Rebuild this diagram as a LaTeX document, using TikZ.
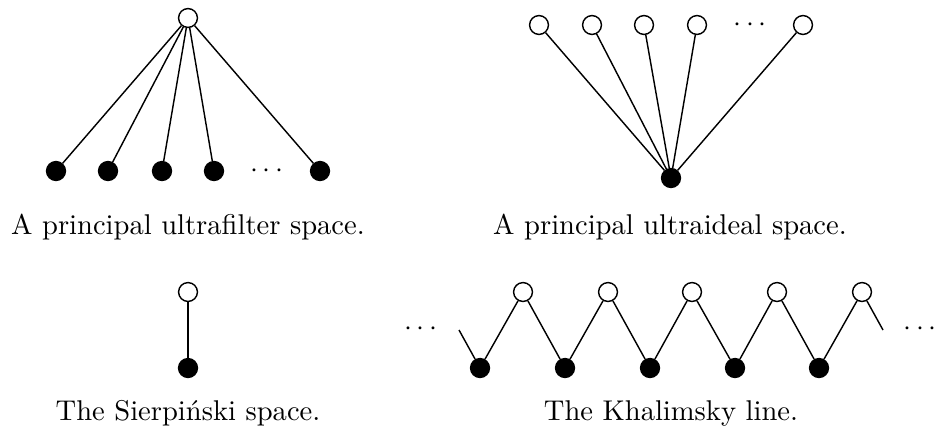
\documentclass[tikz,border=0pt]{standalone}
\begin{document}
\begin{tikzpicture}[x=0.35pt,y=-0.35pt,
  open/.style={circle,draw,fill=white,line width=0.5pt,minimum size=6.6pt,inner sep=0pt},
  closed/.style={circle,draw,fill=black,line width=0.5pt,minimum size=6.6pt,inner sep=0pt},
  edge/.style={line width=0.5pt},
  caption/.style={anchor=base,inner sep=0pt}]
\useasboundingbox (0,0) rectangle (936,430);
% principal ultrafilter space
\node[open] (uf) at (188,18) {};
\node[closed] (uf1) at (56,171) {};
\node[closed] (uf2) at (108,171) {};
\node[closed] (uf3) at (162,171) {};
\node[closed] (uf4) at (214,171) {};
\node (ufd) at (267,171) {$\cdots$};
\node[closed] (uf5) at (320,171) {};
\foreach \i in {1,...,5} \draw[edge] (uf) -- (uf\i);
\node[caption] (ufc) at (188,234) {A principal ultrafilter space.};
% principal ultraideal space
\node[closed] (ui) at (671,178) {};
\node[open] (ui1) at (539,25) {};
\node[open] (ui2) at (592,25) {};
\node[open] (ui3) at (644,25) {};
\node[open] (ui4) at (697,25) {};
\node (uid) at (750,25) {$\cdots$};
\node[open] (ui5) at (803,25) {};
\foreach \i in {1,...,5} \draw[edge] (ui) -- (ui\i);
\node[caption] (uic) at (670,234) {A principal ultraideal space.};
% Sierpinski space
\node[open] (s1) at (188,292) {};
\node[closed] (s0) at (188,368) {};
\draw[edge] (s1) -- (s0);
\node[caption] (sc) at (188,420) {The Sierpi\'nski space.};
% Khalimsky line
\node[closed] (k1) at (480,368) {};
\node[closed] (k2) at (565,368) {};
\node[closed] (k3) at (650,368) {};
\node[closed] (k4) at (735,368) {};
\node[closed] (k5) at (819,368) {};
\node[open] (o1) at (523,292) {};
\node[open] (o2) at (608,292) {};
\node[open] (o3) at (692,292) {};
\node[open] (o4) at (777,292) {};
\node[open] (o5) at (862,292) {};
\coordinate (kl) at (459,330);
\coordinate (kr) at (883,330);
\draw[edge] (kl) -- (k1) -- (o1) -- (k2) -- (o2) -- (k3) -- (o3) -- (k4) -- (o4) -- (k5) -- (o5) -- (kr);
\node (kld) at (421,329) {$\cdots$};
\node (krd) at (920,329) {$\cdots$};
\node[caption] (kc) at (671,420) {The Khalimsky line.};
\end{tikzpicture}
\end{document}
